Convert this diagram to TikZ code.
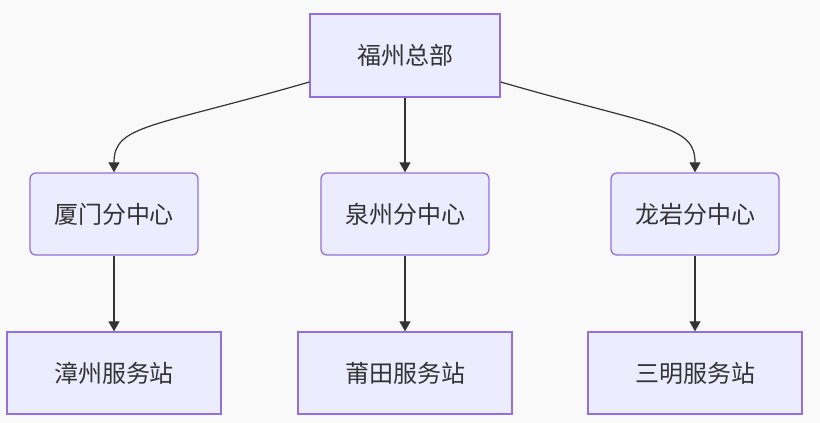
\documentclass[tikz,border=0pt]{standalone}
\usepackage{fontspec}
\newfontfamily\cjk{Noto Sans CJK SC}
\usetikzlibrary{arrows.meta}
\definecolor{nodefill}{HTML}{ECECFF}
\definecolor{nodeline}{HTML}{9370DB}
\definecolor{txt}{HTML}{333333}
\definecolor{bg}{HTML}{F9F9F9}

\begin{document}
\begin{tikzpicture}[x=1pt,y=-1pt,
    box/.style={draw=nodeline,fill=nodefill,line width=1.3pt,text=txt,
      font=\cjk\fontsize{24}{28}\selectfont,inner sep=0pt},
    hq/.style={box,minimum width=190pt,minimum height=83pt},
    centre/.style={box,rounded corners=6pt,minimum width=168pt,minimum height=82pt},
    station/.style={box,minimum width=214pt,minimum height=82pt},
    link/.style={draw=txt,line width=1.2pt,-{Triangle[length=10pt,width=11pt]}}]
            \fill[bg] (0,0) rectangle (820,423);
            \useasboundingbox (0,0) rectangle (820,423);
            \node[hq] (fz) at (405,55.5) {福州总部};
            \node[centre] (xm) at (114,214) {厦门分中心};
            \node[centre] (qz) at (405,214) {泉州分中心};
            \node[centre] (ly) at (695,214) {龙岩分中心};
            \node[station] (zz) at (114,373) {漳州服务站};
            \node[station] (pt) at (405,373) {莆田服务站};
            \node[station] (sm) at (695,373) {三明服务站};
            \draw[link] (fz.west |- 0,82) .. controls (150,128) and (114,125) .. (xm.north);
            \draw[link] (fz) -- (qz);
            \draw[link] (fz.east |- 0,82) .. controls (660,128) and (695,125) .. (ly.north);
            \draw[link] (xm) -- (zz);
            \draw[link] (qz) -- (pt);
            \draw[link] (ly) -- (sm);
        \end{tikzpicture}
\end{document}
